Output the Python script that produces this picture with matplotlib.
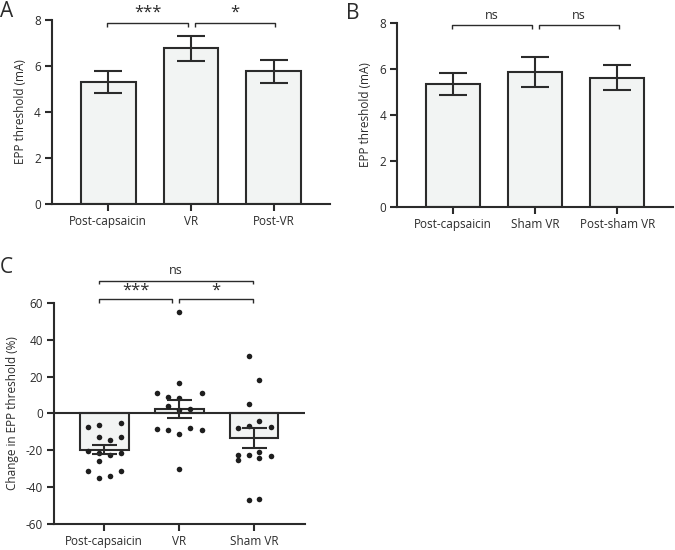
import matplotlib
matplotlib.use("Agg")
import matplotlib.pyplot as plt
import numpy as np

plt.rcParams['font.family'] = ['Open Sans', 'DejaVu Sans']
plt.rcParams['axes.unicode_minus'] = False

# ---- data ----
a_labels = ["Post-capsaicin", "VR", "Post-VR"]
a_means = [5.31, 6.77, 5.77]
a_sem = [0.47, 0.55, 0.50]

b_labels = ["Post-capsaicin", "Sham VR", "Post-sham VR"]
b_means = [5.32, 5.86, 5.61]
b_sem = [0.48, 0.65, 0.55]

c_labels = ["Post-capsaicin", "VR", "Sham VR"]
c_means = [-19.6, 2.6, -13.1]
c_sem = [2.6, 4.9, 5.4]

c_points_capsaicin = [-7.6, -6.5, -5.4, -12.7, -14.3, -12.7, -20.5, -21.2, -22.8,
                      -21.2, -25.9, -31.5, -34.8, -33.8, -31.5]
c_jitter_capsaicin = [-0.22, -0.073, 0.22, -0.073, 0.073, 0.22, -0.22, -0.073, 0.073,
                      0.22, -0.073, -0.22, -0.073, 0.073, 0.22]
c_points_vr = [11.2, 9.0, 16.5, 11.0, 8.5, 4.0, 2.0, 2.4, -8.5, -9.2, -11.0, -8.1,
               -8.9, -30.0, 55.0]
c_jitter_vr = [-0.30, -0.15, 0.0, 0.30, 0.0, -0.15, 0.0, 0.15, -0.30, -0.15, 0.0,
               0.15, 0.30, 0.0, 0.0]
c_points_sham = [31.3, 18.1, 5.2, -8.1, -6.7, -4.0, -7.1, -22.4, -25.3, -22.6, -20.8,
                 -24.3, -23.3, -47.2, -46.2]
c_jitter_sham = [-0.075, 0.07, -0.075, -0.22, -0.075, 0.07, 0.22, -0.22, -0.22, -0.075,
                 0.07, 0.07, 0.22, -0.075, 0.07]

a_sig = [("***", 0, 1), ("*", 1, 2)]
b_sig = [("ns", 0, 1), ("ns", 1, 2)]
c_sig = [("***", 0, 1), ("*", 1, 2), ("ns", 0, 2)]

# ---- style ----
INK = "#2b2b2b"
FILL = "#f2f4f3"
LW = 1.5

fig = plt.figure(figsize=(6.75, 5.5), dpi=100)


def style_axes(ax):
    for s in ("top", "right"):
        ax.spines[s].set_visible(False)
    for s in ("left", "bottom"):
        ax.spines[s].set_linewidth(LW)
        ax.spines[s].set_color(INK)
    ax.tick_params(axis="both", colors=INK, width=LW, length=5, labelsize=8.5,
                   labelcolor=INK, pad=3)


def bracket(ax, x1, x2, y, tip, text, ty, fs):
    ax.plot([x1, x1, x2, x2], [y - tip, y, y, y - tip], color=INK, lw=1.0,
            clip_on=False, solid_capstyle="butt")
    ax.text((x1 + x2) / 2, ty, text, ha="center", va="center", fontsize=fs,
            color=INK, clip_on=False)


def bar_panel(rect, labels, means, sem, sig, ylabel):
    ax = fig.add_axes(rect)
    x = np.arange(len(labels))
    ax.bar(x, means, width=0.66, color=FILL, edgecolor=INK, linewidth=LW, zorder=2)
    ax.errorbar(x, means, yerr=sem, fmt="none", ecolor=INK, elinewidth=LW,
                capsize=10, capthick=LW, zorder=3)
    ax.set_xlim(-0.68, 2.68)
    ax.set_ylim(0, 8)
    ax.set_yticks([0, 2, 4, 6, 8])
    ax.set_xticks(x)
    ax.set_xticklabels(labels)
    ax.set_ylabel(ylabel, fontsize=8.5, color=INK, labelpad=5)
    style_axes(ax)
    for text, i, j in sig:
        if i == 0:
            x1, x2 = i - 0.01, j - 0.04
        else:
            x1, x2 = i + 0.05, j + 0.02
        fs = 12 if "*" in text else 9
        bracket(ax, x1, x2, 7.88, 0.17, text, 8.3, fs)
    return ax


bar_panel([0.077, 0.6296, 0.412, 0.334], a_labels, a_means, a_sem, a_sig,
          "EPP threshold (mA)")
bar_panel([0.5886, 0.6242, 0.4084, 0.3345], b_labels, b_means, b_sem, b_sig,
          "EPP threshold (mA)")

# ---- panel C ----
axc = fig.add_axes([0.080, 0.0473, 0.372, 0.4018])
xc = np.arange(len(c_labels))
axc.bar(xc, c_means, width=0.65, color=FILL, edgecolor=INK, linewidth=LW, zorder=2)
axc.axhline(0, color=INK, lw=LW, zorder=2.5)
groups = [(c_points_capsaicin, c_jitter_capsaicin), (c_points_vr, c_jitter_vr),
          (c_points_sham, c_jitter_sham)]
for gi, (pts, jit) in enumerate(groups):
    axc.scatter(gi + np.array(jit), pts, s=16, color="#1e1e1e", zorder=3,
                linewidths=0)
axc.errorbar(xc, c_means, yerr=c_sem, fmt="none", ecolor=INK, elinewidth=LW,
             capsize=9, capthick=LW, zorder=4)
axc.set_xlim(-0.67, 2.68)
axc.set_ylim(-60, 60)
axc.set_yticks([-60, -40, -20, 0, 20, 40, 60])
axc.set_xticks(xc)
axc.set_xticklabels(c_labels)
axc.set_ylabel("Change in EPP threshold (%)", fontsize=8.5, color=INK, labelpad=5)
style_axes(axc)
for text, i, j in c_sig:
    if text == "ns":
        bracket(axc, i - 0.07, j - 0.01, 72.1, 2.0, text, 77.5, 9)
    elif i == 0:
        bracket(axc, i - 0.07, j - 0.09, 62.2, 2.0, text, 66.5, 12)
    else:
        bracket(axc, i - 0.0, j - 0.01, 62.2, 2.0, text, 66.5, 12)

# panel letters (figure coordinates)
for letter, fx, fy in [("A", 0.0, 0.998), ("B", 0.513, 0.995), ("C", 0.0, 0.532)]:
    fig.text(fx, fy, letter, fontsize=15, color=INK, ha="left", va="top")

fig.savefig("out.png", dpi=100)
